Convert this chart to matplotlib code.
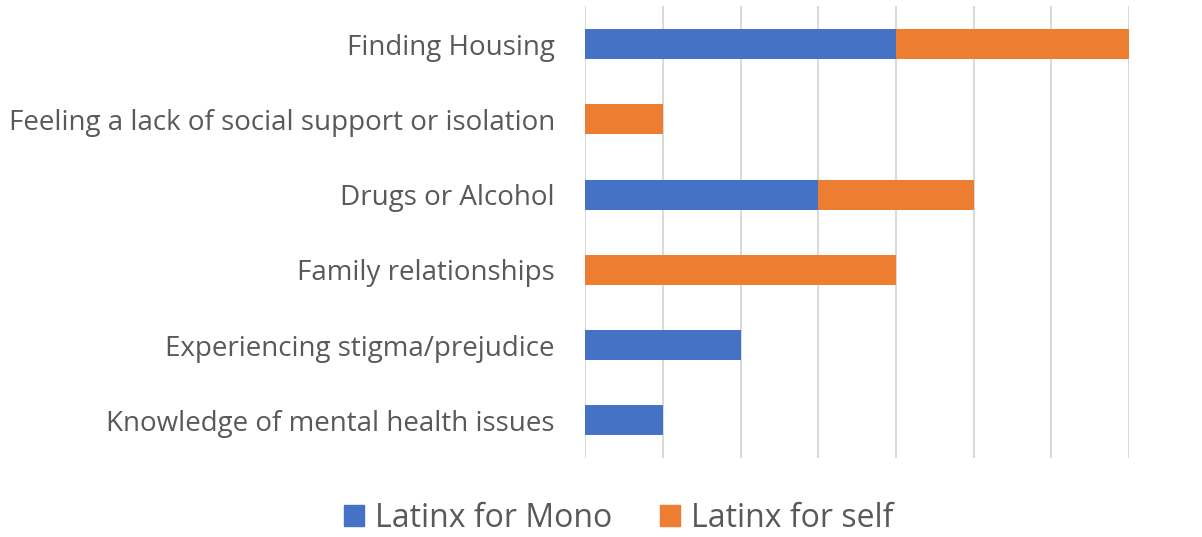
import matplotlib
matplotlib.use("Agg")
import matplotlib.pyplot as plt
from matplotlib.patches import Patch

# categories top to bottom as drawn in the chart
categories = [
    "Finding Housing",
    "Feeling a lack of social support or isolation",
    "Drugs or Alcohol",
    "Family relationships",
    "Experiencing stigma/prejudice",
    "Knowledge of mental health issues",
]
latinx_mono = [4, 0, 3, 0, 2, 1]
latinx_self = [3, 1, 2, 4, 0, 0]
series_names = ["Latinx for Mono", "Latinx for self"]

BLUE = "#4472C4"
ORANGE = "#ED7D31"
TXT = "#595959"

plt.rcParams['font.family'] = ['Open Sans', 'DejaVu Sans']

fig = plt.figure(figsize=(12.02, 5.37), dpi=100)
ax = fig.add_axes([0.4871, 0.1471, 0.9394 - 0.4871, 0.9881 - 0.1471])

ypos = list(range(len(categories)))[::-1]
ax.barh(ypos, latinx_mono, height=0.4, color=BLUE, zorder=3)
ax.barh(ypos, latinx_self, left=latinx_mono, height=0.4, color=ORANGE, zorder=3)

ax.set_xlim(0, 7)
ax.set_ylim(-0.5, 5.5)
ax.set_xticks(range(0, 8))
ax.xaxis.grid(True, color="#d9d9d9", linewidth=1.4, zorder=0)
ax.tick_params(axis="x", length=0, labelbottom=False)
ax.set_yticks(ypos)
ax.set_yticklabels(categories, fontsize=20, color=TXT)
ax.tick_params(axis="y", length=0, pad=22)
for s in ax.spines.values():
    s.set_visible(False)

handles = [Patch(color=BLUE), Patch(color=ORANGE)]
fig.legend(handles, series_names, loc="center", bbox_to_anchor=(0.5146, 0.035),
           ncol=2, frameon=False, fontsize=23, labelcolor=TXT,
           handlelength=0.62, handleheight=0.62, handletextpad=0.34, columnspacing=1.5)

fig.savefig("out.png", dpi=100)
